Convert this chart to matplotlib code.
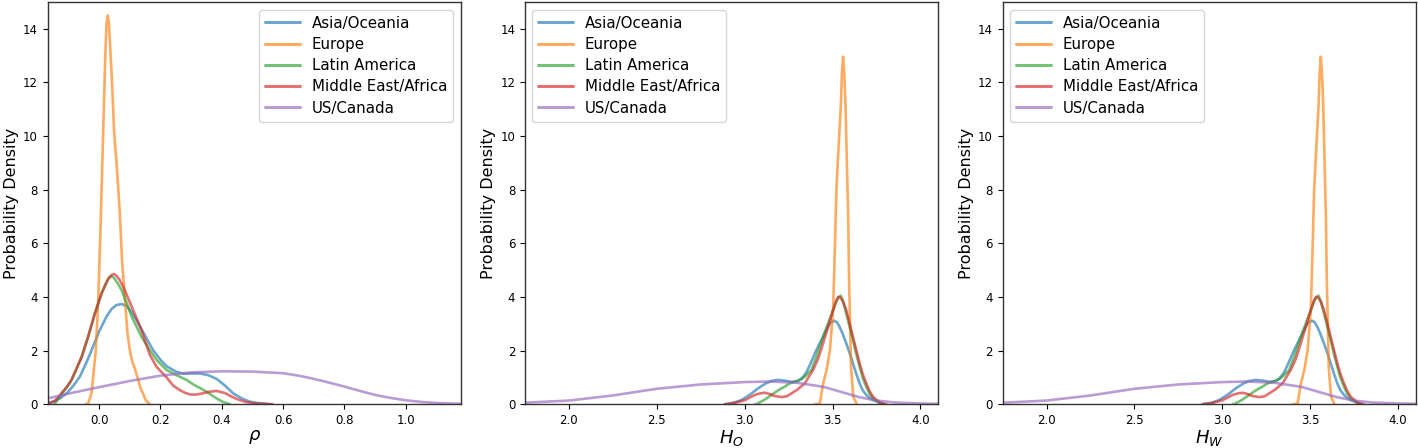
import matplotlib
matplotlib.use("Agg")
import matplotlib.pyplot as plt

# ---------------- data ----------------
regions = ["Asia/Oceania", "Europe", "Latin America", "Middle East/Africa", "US/Canada"]
colors = ["#1f77b4", "#ff7f0e", "#2ca02c", "#d62728", "#9467bd"]

# Panel 1: rho
rho_asia_x = [-0.168, -0.15, -0.128, -0.106, -0.085, -0.063, -0.04, -0.02, 0.0, 0.024, 0.04, 0.056,
              0.073, 0.09, 0.105, 0.122, 0.15, 0.176, 0.20, 0.22, 0.25, 0.274, 0.30, 0.328, 0.355,
              0.383, 0.41, 0.437, 0.465, 0.491, 0.515, 0.535, 0.56]
rho_asia_y = [0.03, 0.10, 0.22, 0.41, 0.68, 1.03, 1.60, 2.15, 2.72, 3.27, 3.55, 3.70,
              3.74, 3.66, 3.45, 3.14, 2.55, 2.02, 1.66, 1.42, 1.22, 1.14, 1.15, 1.15, 1.09,
              0.95, 0.70, 0.41, 0.22, 0.10, 0.05, 0.03, 0.0]

rho_europe_x = [-0.045, -0.036, -0.025, -0.011, -0.003, 0.005, 0.013, 0.020, 0.024, 0.028, 0.032,
                0.036, 0.042, 0.049, 0.058, 0.067, 0.075, 0.084, 0.092, 0.100, 0.108, 0.116, 0.125,
                0.135, 0.143, 0.152, 0.165]
rho_europe_y = [0.0, 0.03, 0.41, 2.0, 3.9, 6.8, 10.1, 13.0, 14.2, 14.5, 14.2,
                13.3, 12.0, 10.1, 8.8, 7.2, 5.3, 3.9, 2.7, 2.0, 1.6, 1.35, 1.0,
                0.6, 0.4, 0.15, 0.0]

rho_latam_x = [-0.145, -0.123, -0.105, -0.09, -0.057, -0.036, -0.014, 0.008, 0.022, 0.032, 0.040,
               0.048, 0.058, 0.073, 0.09, 0.106, 0.138, 0.165, 0.19, 0.22, 0.25, 0.285, 0.31, 0.33,
               0.35, 0.368, 0.383, 0.405, 0.426]
rho_latam_y = [0.02, 0.38, 0.65, 0.91, 1.77, 2.52, 3.39, 4.14, 4.52, 4.72, 4.78,
               4.72, 4.55, 4.26, 3.77, 3.27, 2.52, 2.02, 1.62, 1.28, 1.10, 0.91, 0.72, 0.60,
               0.47, 0.33, 0.22, 0.08, 0.01]

rho_mea_x = [-0.168, -0.145, -0.123, -0.105, -0.09, -0.057, -0.036, -0.014, 0.008, 0.029, 0.040,
             0.048, 0.056, 0.066, 0.080, 0.106, 0.138, 0.165, 0.187, 0.22, 0.241, 0.263, 0.28,
             0.296, 0.313, 0.33, 0.36, 0.383, 0.41, 0.43, 0.448, 0.48, 0.513, 0.567]
rho_mea_y = [0.03, 0.12, 0.41, 0.65, 0.91, 1.77, 2.52, 3.39, 4.14, 4.66, 4.82,
             4.86, 4.80, 4.65, 4.35, 3.64, 2.77, 1.85, 1.40, 1.00, 0.70, 0.53, 0.43,
             0.37, 0.36, 0.39, 0.47, 0.50, 0.42, 0.30, 0.20, 0.08, 0.03, 0.0]

rho_us_x = [-0.168, -0.1, 0.0, 0.1, 0.2, 0.3, 0.4, 0.5, 0.6, 0.65, 0.7, 0.75, 0.8, 0.85, 0.9,
            0.95, 1.0, 1.05, 1.1, 1.179]
rho_us_y = [0.22, 0.40, 0.64, 0.87, 1.07, 1.19, 1.23, 1.22, 1.16, 1.07, 0.95, 0.81, 0.66, 0.50,
            0.35, 0.24, 0.15, 0.09, 0.05, 0.02]

# Panel 2: H_O
ho_asia_x = [2.887, 2.94, 2.982, 3.03, 3.077, 3.12, 3.153, 3.19, 3.23, 3.267, 3.30, 3.324, 3.35,
             3.37, 3.39, 3.408, 3.446, 3.47, 3.49, 3.509, 3.525, 3.54, 3.558, 3.578, 3.598, 3.616,
             3.635, 3.654, 3.672, 3.692, 3.71, 3.73, 3.768, 3.79]
ho_asia_y = [0.0, 0.06, 0.16, 0.36, 0.60, 0.78, 0.87, 0.91, 0.88, 0.84, 0.86, 0.95, 1.18,
             1.45, 1.75, 2.02, 2.52, 2.85, 3.05, 3.12, 3.06, 2.89, 2.62, 2.27, 1.90, 1.53,
             1.14, 0.78, 0.52, 0.35, 0.24, 0.16, 0.07, 0.02]

ho_europe_x = [3.40, 3.415, 3.428, 3.447, 3.466, 3.485, 3.503, 3.513, 3.522, 3.532, 3.547, 3.553,
               3.560, 3.567, 3.574, 3.583, 3.589, 3.594, 3.599, 3.605, 3.618, 3.637]
ho_europe_y = [0.0, 0.01, 0.04, 0.78, 1.28, 2.02, 3.51, 5.75, 8.0, 9.3, 11.1, 12.3,
               12.96, 12.3, 11.1, 8.6, 6.99, 4.63, 3.27, 1.40, 0.28, 0.02]

ho_latam_x = [3.06, 3.077, 3.115, 3.153, 3.19, 3.228, 3.257, 3.304, 3.34, 3.38, 3.41, 3.446, 3.475,
              3.503, 3.52, 3.532, 3.547, 3.56, 3.578, 3.597, 3.616, 3.635, 3.654, 3.672, 3.692,
              3.71, 3.73, 3.768, 3.78]
ho_latam_y = [0.0, 0.04, 0.18, 0.35, 0.52, 0.66, 0.78, 0.88, 1.02, 1.28, 1.80, 2.52, 3.02,
              3.51, 3.80, 3.97, 4.05, 3.85, 3.39, 2.90, 2.40, 1.88, 1.40, 0.98, 0.66,
              0.40, 0.22, 0.04, 0.0]

ho_mea_x = [2.887, 2.94, 3.0, 3.058, 3.09, 3.114, 3.14, 3.171, 3.209, 3.24, 3.267, 3.30, 3.342,
            3.389, 3.418, 3.446, 3.475, 3.503, 3.52, 3.533, 3.545, 3.56, 3.578, 3.597, 3.616,
            3.635, 3.654, 3.672, 3.692, 3.71, 3.73, 3.77, 3.807]
ho_mea_y = [0.0, 0.05, 0.15, 0.35, 0.41, 0.43, 0.39, 0.31, 0.27, 0.30, 0.41, 0.55, 0.78,
            1.28, 1.70, 2.27, 2.90, 3.51, 3.85, 4.01, 3.98, 3.82, 3.51, 3.02, 2.52,
            2.02, 1.53, 1.12, 0.78, 0.50, 0.28, 0.06, 0.0]

ho_us_x = [1.75, 2.0, 2.25, 2.5, 2.75, 3.0, 3.15, 3.3, 3.45, 3.55, 3.65, 3.75, 3.85, 4.0, 4.1]
ho_us_y = [0.06, 0.14, 0.33, 0.58, 0.74, 0.83, 0.85, 0.80, 0.65, 0.46, 0.27, 0.14, 0.07, 0.03, 0.02]

# Panel 3: H_W (reads the same as H_O in the picture)
hw_asia_x, hw_asia_y = list(ho_asia_x), list(ho_asia_y)
hw_europe_x, hw_europe_y = list(ho_europe_x), list(ho_europe_y)
hw_latam_x, hw_latam_y = list(ho_latam_x), list(ho_latam_y)
hw_mea_x, hw_mea_y = list(ho_mea_x), list(ho_mea_y)
hw_us_x, hw_us_y = list(ho_us_x), list(ho_us_y)

panels = [
    dict(xlabel=r"$\rho$", xlim=(-0.168, 1.179), xticks=[0.0, 0.2, 0.4, 0.6, 0.8, 1.0],
         loc="upper right",
         series=[(rho_asia_x, rho_asia_y), (rho_europe_x, rho_europe_y), (rho_latam_x, rho_latam_y),
                 (rho_mea_x, rho_mea_y), (rho_us_x, rho_us_y)]),
    dict(xlabel=r"$H_O$", xlim=(1.75, 4.10), xticks=[2.0, 2.5, 3.0, 3.5, 4.0], loc="upper left",
         series=[(ho_asia_x, ho_asia_y), (ho_europe_x, ho_europe_y), (ho_latam_x, ho_latam_y),
                 (ho_mea_x, ho_mea_y), (ho_us_x, ho_us_y)]),
    dict(xlabel=r"$H_W$", xlim=(1.75, 4.10), xticks=[2.0, 2.5, 3.0, 3.5, 4.0], loc="upper left",
         series=[(hw_asia_x, hw_asia_y), (hw_europe_x, hw_europe_y), (hw_latam_x, hw_latam_y),
                 (hw_mea_x, hw_mea_y), (hw_us_x, hw_us_y)]),
]
yticks = [0, 2, 4, 6, 8, 10, 12, 14]

# ---------------- figure ----------------
plt.rcParams["font.family"] = ["DejaVu Sans"]
fig = plt.figure(figsize=(14.18, 4.48), dpi=100)
lefts = [0.0336, 0.3702, 0.7071]
width = 0.2913
bottom, top = 0.0975, 0.9955

for left, p in zip(lefts, panels):
    ax = fig.add_axes([left, bottom, width, top - bottom])
    for name, col, (xs, ys) in zip(regions, colors, p["series"]):
        ax.plot(xs, ys, color=col, lw=1.9, alpha=0.65, label=name,
                solid_capstyle="round", solid_joinstyle="round")
    ax.set_xlim(*p["xlim"])
    ax.set_ylim(0, 15.0)
    ax.set_xticks(p["xticks"])
    ax.set_yticks(yticks)
    ax.tick_params(labelsize=8.5)
    ax.set_xlabel(p["xlabel"], fontsize=13, labelpad=1)
    ax.set_ylabel("Probability Density", fontsize=11.5, labelpad=3)
    for s in ax.spines.values():
        s.set_color("#333333")
        s.set_linewidth(1.0)
    leg = ax.legend(loc=p["loc"], fontsize=10.8, handlelength=2.3, borderaxespad=0.5,
                    labelspacing=0.42)
    for line in leg.get_lines():
        line.set_linewidth(2.2)

fig.savefig("out.png", dpi=100)
